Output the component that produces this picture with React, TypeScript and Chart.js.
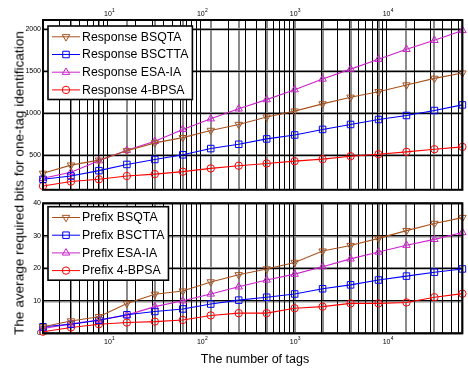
import React, { useEffect, useRef } from 'react';
import { Chart, registerables } from 'chart.js';
import { drawPoint } from 'chart.js/helpers';
Chart.register(...registerables);

const FONT = "'Liberation Sans', Arial, sans-serif";

// number of tags (x)
const tags = [2, 4, 8, 16, 32, 64, 128, 256, 512, 1024, 2048, 4096, 8192, 16384, 32768, 65536];

// top panel: response bits
const respBSQTA = [284, 382, 441, 552, 647, 709, 795, 866, 954, 1025, 1111, 1190, 1256, 1336, 1415, 1478];
const respBSCTTA = [213, 252, 316, 390, 449, 505, 579, 630, 694, 741, 807, 866, 925, 973, 1032, 1099];
const respESAIA = [225, 296, 434, 559, 665, 807, 934, 1052, 1162, 1280, 1407, 1525, 1643, 1761, 1868, 1986];
const resp4BPSA = [134, 186, 213, 252, 275, 304, 343, 375, 402, 429, 453, 488, 512, 540, 571, 599];

// bottom panel: prefix bits
const prefBSQTA = [2.0, 3.8, 5.1, 9.2, 12.0, 13.0, 15.8, 18.0, 19.8, 21.8, 25.3, 27.0, 29.2, 31.6, 33.8, 35.6];
const prefBSCTTA = [2.0, 2.8, 4.0, 5.7, 6.7, 7.5, 9.0, 10.2, 11.1, 12.1, 13.7, 14.9, 16.4, 17.6, 18.8, 19.8];
const prefESAIA = [1.5, 2.9, 4.1, 5.6, 8.2, 10.0, 12.1, 14.3, 16.4, 18.2, 20.5, 22.9, 25.0, 27.1, 28.9, 31.0];
const pref4BPSA = [0.5, 1.8, 2.8, 3.3, 3.6, 4.1, 5.5, 6.2, 6.2, 7.7, 8.2, 9.2, 9.2, 9.5, 11.1, 12.2];

const respLabels = ['Response BSQTA', 'Response BSCTTA', 'Response ESA-IA', 'Response 4-BPSA'];
const prefLabels = ['Prefix BSQTA', 'Prefix BSCTTA', 'Prefix ESA-IA', 'Prefix 4-BPSA'];

const respTicks = [500, 1000, 1500, 2000];
const prefTicks = [0, 10, 20, 30, 40];
const decadeTicks = [10, 100, 1000, 10000];
const decadeBase = '10';
const decadeExps = ['1', '2', '3', '4'];

const xTitle = 'The number of tags';
const yTitle = 'The average required bits for one-tag identification';

const colors = ['#a8521e', '#0000ff', '#cc22cc', '#ff0000'];
const marks = [
  { style: 'triangle', rot: 180, r: 4.3 },
  { style: 'rect', rot: 0, r: 4.6 },
  { style: 'triangle', rot: 0, r: 4.3 },
  { style: 'circle', rot: 0, r: 3.7 },
];

const minorVals: number[] = [];
for (let k = 0; k <= 4; k++) {
  for (let m = 1; m <= 9; m++) {
    const v = m * Math.pow(10, k);
    if (v >= 2 && v <= 65536) minorVals.push(v);
  }
}

type PanelProps = {
  top: number;
  height: number;
  series: number[][];
  labels: string[];
  yMin: number;
  yMax: number;
  yTicks: number[];
  xPos: 'top' | 'bottom';
  xAxisSize: number;
  padTop: number;
  padBottom: number;
  labelOffset: number;
  legendTop: number;
};

function Panel(p: PanelProps) {
  const ref = useRef<HTMLCanvasElement>(null);
  useEffect(() => {
    const legendPlugin = {
      id: 'boxLegend',
      afterDraw(chart: any) {
        const { ctx, chartArea: a } = chart;
        ctx.save();
        // frame
        ctx.strokeStyle = '#000';
        ctx.lineWidth = 2;
        ctx.strokeRect(a.left, a.top, a.right - a.left, a.bottom - a.top);

        // decade tick labels 10^k
        const sx = chart.scales.x;
        const ly = p.xPos === 'top' ? a.top + p.labelOffset : a.bottom + p.labelOffset;
        ctx.fillStyle = '#000';
        ctx.textBaseline = 'middle';
        decadeTicks.forEach((v, i) => {
          const px = sx.getPixelForValue(v);
          ctx.font = `7px ${FONT}`;
          ctx.textAlign = 'center';
          ctx.fillText(decadeBase, px, ly);
          ctx.font = `5px ${FONT}`;
          ctx.textAlign = 'left';
          ctx.fillText(decadeExps[i], px + 4.1, ly - 3.4);
        });

        // legend
        ctx.font = `12.3px ${FONT}`;
        const ds = chart.data.datasets;
        const tw = Math.max(...ds.map((d: any) => ctx.measureText(d.label).width));
        const bx = a.left + 5;
        const by = a.top + p.legendTop;
        const bw = 34 + tw + 4;
        const bh = 73.5;
        ctx.fillStyle = '#fff';
        ctx.fillRect(bx, by, bw, bh);
        ctx.lineWidth = 1.6;
        ctx.strokeStyle = '#000';
        ctx.strokeRect(bx, by, bw, bh);
        ds.forEach((d: any, i: number) => {
          const y = by + 10.8 + i * 17.7;
          ctx.strokeStyle = d.borderColor;
          ctx.lineWidth = 1;
          ctx.beginPath();
          ctx.moveTo(bx + 4, y);
          ctx.lineTo(bx + 32, y);
          ctx.stroke();
          ctx.fillStyle = 'rgba(0,0,0,0)';
          drawPoint(ctx, { pointStyle: d.pointStyle, rotation: d.pointRotation, radius: d.pointRadius, borderWidth: 1 } as any, bx + 18, y);
          ctx.fillStyle = '#000';
          ctx.textBaseline = 'middle';
          ctx.textAlign = 'left';
          ctx.fillText(d.label, bx + 34, y + 0.5);
        });
        ctx.restore();
      },
    };

    const datasets = p.series.map((vals, i) => ({
      label: p.labels[i],
      data: tags.map((t, j) => ({ x: t, y: vals[j] })),
      borderColor: colors[i],
      backgroundColor: 'rgba(0,0,0,0)',
      borderWidth: 1.1,
      pointStyle: marks[i].style,
      pointRotation: marks[i].rot,
      pointRadius: marks[i].r,
      pointBorderWidth: 1,
      pointBackgroundColor: 'rgba(0,0,0,0)',
      pointBorderColor: colors[i],
      clip: false,
      tension: 0,
      xAxisID: 'x',
      yAxisID: 'y',
    }));

    const chart = new Chart(ref.current!, {
      type: 'line',
      data: { datasets } as any,
      options: {
        responsive: false,
        animation: false,
        events: [],
        layout: { padding: { top: p.padTop, bottom: p.padBottom, left: 0, right: 1 } },
        plugins: { legend: { display: false }, tooltip: { enabled: false } },
        scales: {
          x2: {
            type: 'logarithmic',
            position: p.xPos,
            min: 2,
            max: 65536,
            afterBuildTicks: (ax: any) => {
              ax.ticks = tags.map((v) => ({ value: v }));
            },
            ticks: { display: false, autoSkip: false },
            grid: { color: '#8a8a8a', lineWidth: 2, drawTicks: false, z: -2 },
            border: { display: false },
            afterFit: (s: any) => {
              s.height = 0;
            },
          },
          x: {
            type: 'logarithmic',
            position: p.xPos,
            min: 2,
            max: 65536,
            afterBuildTicks: (ax: any) => {
              ax.ticks = minorVals.map((v) => ({ value: v }));
            },
            ticks: { display: false, autoSkip: false },
            grid: { color: '#000', lineWidth: 1, drawTicks: false, z: -1 },
            border: { display: false },
            afterFit: (s: any) => {
              s.height = p.xAxisSize;
            },
          },
          y2: {
            type: 'linear',
            position: 'left',
            min: p.yMin,
            max: p.yMax,
            afterBuildTicks: (ax: any) => {
              ax.ticks = p.yTicks.map((v) => ({ value: v }));
            },
            ticks: { display: false },
            grid: { color: '#8a8a8a', lineWidth: 2.5, drawTicks: false, z: -2 },
            border: { display: false },
            afterFit: (s: any) => {
              s.width = 0;
            },
          },
          y: {
            type: 'linear',
            position: 'left',
            min: p.yMin,
            max: p.yMax,
            afterBuildTicks: (ax: any) => {
              ax.ticks = p.yTicks.map((v) => ({ value: v }));
            },
            ticks: {
              padding: 2,
              color: '#000',
              font: { family: FONT, size: 7 },
              callback: (v: any) => String(v),
            },
            grid: { color: '#000', lineWidth: 1, drawTicks: false, z: -1 },
            border: { display: false },
            afterFit: (s: any) => {
              s.width = 43;
            },
          },
        },
      } as any,
      plugins: [legendPlugin],
    });
    return () => chart.destroy();
  }, []);
  return (
    <canvas
      ref={ref}
      width={468}
      height={p.height}
      style={{ position: 'absolute', left: 0, top: p.top, width: 468, height: p.height }}
    />
  );
}

export default function App() {
  return (
    <div style={{ position: 'absolute', left: 0, top: 0, width: 468, height: 368, overflow: 'hidden', background: '#fff' }}>
      <Panel
        top={0}
        height={196}
        series={[respBSQTA, respBSCTTA, respESAIA, resp4BPSA]}
        labels={respLabels}
        yMin={88}
        yMax={2110}
        yTicks={respTicks}
        xPos="top"
        xAxisSize={20}
        padTop={0}
        padBottom={4.3}
        labelOffset={-5.5}
        legendTop={6}
      />
      <Panel
        top={196}
        height={172}
        series={[prefBSQTA, prefBSCTTA, prefESAIA, pref4BPSA]}
        labels={prefLabels}
        yMin={0}
        yMax={40}
        yTicks={prefTicks}
        xPos="bottom"
        xAxisSize={34.7}
        padTop={7.3}
        padBottom={0}
        labelOffset={9}
        legendTop={3.4}
      />
      <div
        style={{
          position: 'absolute',
          left: 18.5,
          top: 182.5,
          transform: 'translate(-50%, -50%) rotate(-90deg)',
          whiteSpace: 'nowrap',
          font: `13.6px ${FONT}`,
          color: '#000',
        }}
      >
        {yTitle}
      </div>
      <div
        style={{
          position: 'absolute',
          left: 255,
          top: 359,
          transform: 'translate(-50%, -50%)',
          whiteSpace: 'nowrap',
          font: `12.5px ${FONT}`,
          color: '#000',
        }}
      >
        {xTitle}
      </div>
    </div>
  );
}
